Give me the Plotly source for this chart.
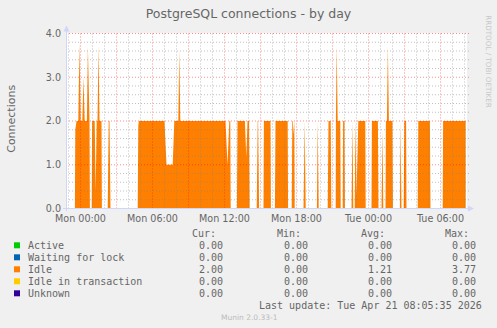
import plotly.graph_objects as go
import pandas as pd

# ---------------- data ----------------
idle_times = [
    "2026-04-19 23:32", "2026-04-19 23:34", "2026-04-19 23:40", "2026-04-19 23:49", "2026-04-19 23:55", "2026-04-20 00:01",
    "2026-04-20 00:09", "2026-04-20 00:15", "2026-04-20 00:21", "2026-04-20 00:32", "2026-04-20 00:37", "2026-04-20 00:42",
    "2026-04-20 00:45", "2026-04-20 00:47",
    "2026-04-20 00:56", "2026-04-20 00:58", "2026-04-20 01:11", "2026-04-20 01:16", "2026-04-20 01:21", "2026-04-20 01:25",
    "2026-04-20 01:30", "2026-04-20 01:35", "2026-04-20 01:45", "2026-04-20 01:47",
    "2026-04-20 02:16", "2026-04-20 02:21", "2026-04-20 02:25", "2026-04-20 02:30",
    "2026-04-20 04:46", "2026-04-20 04:49", "2026-04-20 04:52", "2026-04-20 07:00", "2026-04-20 07:10", "2026-04-20 07:41",
    "2026-04-20 07:49", "2026-04-20 08:09", "2026-04-20 08:14", "2026-04-20 08:19", "2026-04-20 12:05", "2026-04-20 12:15",
    "2026-04-20 12:24", "2026-04-20 12:29", "2026-04-20 12:31",
    "2026-04-20 13:02", "2026-04-20 13:05", "2026-04-20 13:42", "2026-04-20 13:49", "2026-04-20 13:55", "2026-04-20 14:03",
    "2026-04-20 14:06",
    "2026-04-20 14:41", "2026-04-20 14:46", "2026-04-20 14:48", "2026-04-20 14:53",
    "2026-04-20 15:15", "2026-04-20 15:17", "2026-04-20 15:50", "2026-04-20 15:52",
    "2026-04-20 16:12", "2026-04-20 16:15", "2026-04-20 17:16", "2026-04-20 17:18",
    "2026-04-20 17:36", "2026-04-20 17:39", "2026-04-20 17:42", "2026-04-20 17:44", "2026-04-20 17:46", "2026-04-20 17:49",
    "2026-04-20 17:51",
    "2026-04-20 18:35", "2026-04-20 18:41", "2026-04-20 18:46",
    "2026-04-20 19:42", "2026-04-20 19:46", "2026-04-20 19:51",
    "2026-04-20 20:36", "2026-04-20 20:40", "2026-04-20 20:51", "2026-04-20 20:54",
    "2026-04-20 21:16", "2026-04-20 21:17", "2026-04-20 21:21", "2026-04-20 21:26", "2026-04-20 21:39", "2026-04-20 21:41",
    "2026-04-20 21:51", "2026-04-20 21:53", "2026-04-20 22:00", "2026-04-20 22:02",
    "2026-04-20 22:35", "2026-04-20 22:40", "2026-04-20 22:44",
    "2026-04-20 22:51", "2026-04-20 22:55", "2026-04-20 23:00", "2026-04-20 23:05", "2026-04-20 23:09", "2026-04-20 23:44",
    "2026-04-20 23:46",
    "2026-04-21 00:15", "2026-04-21 00:17", "2026-04-21 00:47", "2026-04-21 00:50",
    "2026-04-21 01:05", "2026-04-21 01:10", "2026-04-21 01:14",
    "2026-04-21 01:25", "2026-04-21 01:27", "2026-04-21 01:32", "2026-04-21 01:37", "2026-04-21 01:42", "2026-04-21 02:00",
    "2026-04-21 02:02",
    "2026-04-21 02:37", "2026-04-21 02:40", "2026-04-21 02:45",
    "2026-04-21 02:56", "2026-04-21 02:59", "2026-04-21 03:08", "2026-04-21 03:10",
    "2026-04-21 04:06", "2026-04-21 04:09", "2026-04-21 05:07", "2026-04-21 05:10",
    "2026-04-21 06:11", "2026-04-21 06:13", "2026-04-21 08:06",
]
idle_values = [
    0, 1.8, 2, 2, 3.77, 2,
    2, 3.0, 2, 2, 3.7, 2,
    2, 0,
    0, 2, 2, 0.4, 2, 2,
    3.72, 2, 2, 0,
    0, 2, 2, 0,
    0, 1.9, 2, 2, 1.0, 1.0,
    2, 2, 3.62, 2, 2, 1.0,
    2, 2, 0,
    0, 2, 2, 1.18, 2, 2,
    0,
    0, 2, 2, 0,
    0, 2, 2, 0,
    0, 2, 2, 0,
    0, 2, 2, 1.7, 2, 2,
    0,
    0, 2, 0,
    0, 2, 0,
    0, 2, 2, 0,
    0, 2, 3.7, 2, 2, 0,
    0, 2, 2, 0,
    0, 2, 0,
    0, 2, 0.3, 1.8, 2, 2,
    0,
    0, 2, 2, 0,
    0, 1.8, 0,
    0, 2, 2, 3.7, 2, 2,
    0,
    0, 2, 0,
    0, 2, 2, 0,
    0, 2, 2, 0,
    0, 2, 2,
]

x_range = ["2026-04-19 22:47:30", "2026-04-21 08:12:30"]
x_tick_vals = ["2026-04-20 00:00", "2026-04-20 06:00", "2026-04-20 12:00",
               "2026-04-20 18:00", "2026-04-21 00:00", "2026-04-21 06:00"]
x_tick_text = ["Mon 00:00", "Mon 06:00", "Mon 12:00", "Mon 18:00", "Tue 00:00", "Tue 06:00"]
y_tick_vals = [0, 1, 2, 3, 4]
y_tick_text = ["0.0", "1.0", "2.0", "3.0", "4.0"]

series_names = ["Active", "Waiting for lock", "Idle", "Idle in transaction", "Unknown"]
series_colors = ["#00CC00", "#0066B3", "#FF8000", "#FFCC00", "#330099"]
cur_vals = [0.00, 0.00, 2.00, 0.00, 0.00]
min_vals = [0.00, 0.00, 0.00, 0.00, 0.00]
avg_vals = [0.00, 0.00, 1.21, 0.00, 0.00]
max_vals = [0.00, 0.00, 3.77, 0.00, 0.00]

title_text = "PostgreSQL connections - by day"
y_label = "Connections"
last_update = "Last update: Tue Apr 21 08:05:35 2026"
footer = "Munin 2.0.33-1"
side_text = "RRDTOOL / TOBI OETIKER"

# ---------------- layout constants ----------------
W, H = 497, 328
PL, PR, PT, PB = 66, 467, 33, 209  # plot area in pixels
FONT_COLOR = "#666666"
AXIS_COLOR = "#CFD6F8"
MAJOR_GRID = "rgba(255,0,0,0.45)"
MINOR_GRID = "rgba(130,130,130,0.5)"


def px_x(px):
    return (px - PL) / (PR - PL)


def px_y(py):
    return (PB - py) / (PB - PT)


fig = go.Figure()
fig.add_trace(go.Scatter(
    x=pd.to_datetime(idle_times), y=idle_values, mode="lines",
    line=dict(width=0, color=series_colors[2]), fill="tozeroy",
    fillcolor=series_colors[2], showlegend=False, hoverinfo="skip",
))

shapes = []
# grid (drawn above the data, like rrdtool)
t0 = pd.Timestamp(x_range[0]).ceil("h")
t1 = pd.Timestamp(x_range[1])
t = t0
while t <= t1:
    major = (t.hour % 3 == 0)
    shapes.append(dict(type="line", xref="x", yref="y", x0=t, x1=t, y0=0, y1=4,
                       layer="above",
                       line=dict(color=MAJOR_GRID if major else MINOR_GRID,
                                 width=1, dash="1px,2px")))
    t += pd.Timedelta(hours=1)
for k in range(1, 21):
    v = k * 0.2
    major = (k % 5 == 0)
    shapes.append(dict(type="line", xref="paper", yref="y", x0=0, x1=px_x(469), y0=v, y1=v,
                       layer="above",
                       line=dict(color=MAJOR_GRID if major else MINOR_GRID,
                                 width=1, dash="1px,2px")))
# axes lines and arrows
shapes.append(dict(type="line", xref="paper", yref="paper", x0=px_x(66.5), x1=px_x(66.5),
                   y0=px_y(211), y1=px_y(28), line=dict(color=AXIS_COLOR, width=1), layer="above"))
shapes.append(dict(type="line", xref="paper", yref="paper", x0=px_x(63), x1=px_x(470),
                   y0=px_y(208.5), y1=px_y(208.5), line=dict(color=AXIS_COLOR, width=1), layer="above"))
shapes.append(dict(type="path", xref="paper", yref="paper",
                   path=f"M {px_x(63.5)} {px_y(31.5)} L {px_x(69.5)} {px_y(31.5)} L {px_x(66.5)} {px_y(25.5)} Z",
                   fillcolor=AXIS_COLOR, line=dict(width=0), layer="above"))
shapes.append(dict(type="path", xref="paper", yref="paper",
                   path=f"M {px_x(468)} {px_y(205.5)} L {px_x(468)} {px_y(211.5)} L {px_x(474)} {px_y(208.5)} Z",
                   fillcolor=AXIS_COLOR, line=dict(width=0), layer="above"))

annotations = []
mono = "DejaVu Sans Mono"
sans = "DejaVu Sans"


def ann(text, px, py, xanchor="left", size=10, family=mono, color=FONT_COLOR, angle=0):
    annotations.append(dict(text=text, xref="paper", yref="paper", x=px_x(px), y=px_y(py),
                            xanchor=xanchor, yanchor="middle", showarrow=False, textangle=angle,
                            font=dict(family=family, size=size, color=color)))


# y label
ann(y_label, 10.8, 119, xanchor="center", size=11, family=sans, angle=-90)
# side text
ann(side_text, 488.3, 61.5, xanchor="center", size=7.2, family=sans, color="#C8C8C8", angle=90)

# legend table
col_right = [225, 310, 394, 478]
headers = ["Cur:", "Min:", "Avg:", "Max:"]
for h, cx in zip(headers, [218, 303, 387, 471]):
    ann(h, cx, 233.5, xanchor="right")
for i, name in enumerate(series_names):
    py = 245.3 + 12 * i
    shapes.append(dict(type="rect", xref="paper", yref="paper",
                       x0=px_x(14), x1=px_x(20), y0=px_y(py - 3), y1=px_y(py + 3),
                       fillcolor=series_colors[i], line=dict(width=0)))
    ann(name, 26, py)
    for vals, cx in zip([cur_vals, min_vals, avg_vals, max_vals], col_right):
        ann(f"{vals[i]:.2f}", cx, py, xanchor="right")
ann(last_update, 484.5, 305.7, xanchor="right")
ann(footer, 249, 317.3, xanchor="center", size=7.5, family=sans, color="#BBBBBB")

fig.update_layout(
    width=W, height=H,
    margin=dict(l=PL, r=W - PR, t=PT, b=H - PB, pad=0),
    paper_bgcolor="#F0F0F0", plot_bgcolor="#FFFFFF",
    title=dict(text=title_text, x=0.5, xref="container", xanchor="center",
               y=1 - 13.3 / H, yref="container", yanchor="middle",
               font=dict(family=sans, size=12.5, color=FONT_COLOR)),
    xaxis=dict(type="date", range=x_range, tickmode="array", tickvals=x_tick_vals,
               ticktext=x_tick_text, showgrid=False, zeroline=False, showline=False,
               ticks="", ticklabelstandoff=2,
               tickfont=dict(family=sans, size=9.6, color=FONT_COLOR),
               fixedrange=True),
    yaxis=dict(range=[-0.5 / 43.75, 4 + 0.5 / 43.75], tickmode="array", tickvals=y_tick_vals,
               ticktext=y_tick_text, showgrid=False, zeroline=False, showline=False,
               ticks="", ticklabelstandoff=4,
               tickfont=dict(family=sans, size=9.6, color=FONT_COLOR),
               fixedrange=True),
    shapes=shapes, annotations=annotations, showlegend=False,
)

fig.write_html("out.html")
